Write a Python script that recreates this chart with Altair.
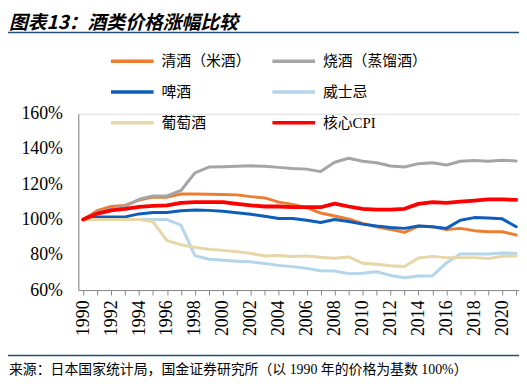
import altair as alt
import pandas as pd

years = list(range(1990, 2022))

series_names = ["清酒（米酒）", "烧酒（蒸馏酒）", "啤酒", "威士忌", "葡萄酒", "核心CPI"]
series_colors = ["#ED7D31", "#A5A5A5", "#0E5DBA", "#B4D5EA", "#E6D6A8", "#FF0000"]

sake = [100, 105, 107.4, 108, 111, 112.7, 112.7, 114.5, 114.5, 114.3, 114.2, 114, 113, 112.3,
        109.9, 108.6, 106.7, 103.7, 102, 100.3, 97.8, 95.9, 94.4, 92.7, 96.3, 95.9, 94.4, 95,
        93.7, 93.1, 93.1, 91.2]
shochu = [100, 104, 106, 107.5, 111.5, 113.4, 113.4, 116.5, 126.5, 129.8, 130, 130.2, 130.5, 130.2,
          129.6, 129, 128.6, 127.2, 132.5, 134.8, 133.1, 132.2, 130.4, 129.8, 131.7, 132.2, 130.9,
          133.1, 133.5, 133.1, 133.6, 133.2]
beer = [100, 101.5, 101.5, 101.5, 103.2, 104, 104, 105, 105.4, 105.2, 104.7, 103.9, 103, 101.9,
        100.6, 100.6, 99.6, 98.3, 100, 98.9, 97.4, 96.3, 95.5, 95, 96.3, 95.9, 95, 99.6, 101.1,
        100.9, 100.4, 95.9]
whisky = [100, 100, 100, 100, 100, 100, 100, 96.8, 79.5, 77.5, 76.9, 76.4, 76, 75.1, 74, 73.3,
          72.3, 71, 70.8, 69.3, 69.5, 70.4, 68.3, 67, 68, 68, 75.4, 80.4, 80.4, 80.4, 81, 80.8]
wine = [100, 100, 100, 100, 100, 98.7, 88, 85.7, 84.2, 83.2, 82.5, 81.7, 80.8, 79.3, 79.6, 79,
        79.3, 78.6, 78, 78.8, 75.2, 74.6, 73.8, 73.4, 78.2, 79.1, 78.4, 78.4, 78.4, 77.9, 79.1, 79.3]
core_cpi = [100, 103.4, 105.2, 106.1, 107.2, 107.8, 108, 109.5, 109.9, 109.9, 109.9, 108.9, 108,
            107.4, 107.4, 107, 107, 107, 109, 107.4, 106.1, 105.6, 105.6, 106.1, 108.9, 109.9,
            109.5, 110.2, 110.8, 111.4, 111.4, 111.2]

y_ticks = [60, 80, 100, 120, 140, 160]
title_text = "图表13：酒类价格涨幅比较"
source_text = "来源：日本国家统计局，国金证券研究所（以 1990 年的价格为基数 100%）"

all_series = [sake, shochu, beer, whisky, wine, core_cpi]
rows = []
for name, vals in zip(series_names, all_series):
    for yr, v in zip(years, vals):
        rows.append({"year": yr, "value": v, "series": name})
df = pd.DataFrame(rows)

latin_cjk = "Liberation Serif, Noto Sans CJK SC"
line_color = "#1F4E79"

lines = alt.Chart(df).mark_line(strokeCap="round", strokeJoin="round").encode(
    x=alt.X("year:Q",
            scale=alt.Scale(domain=[1989.65, 2021.2], nice=False, zero=False),
            axis=alt.Axis(values=years, labelExpr="datum.value % 2 == 0 ? datum.value : ''",
                          labelAngle=-90, labelFont="Liberation Serif", labelFontSize=18,
                          labelColor="#000000", labelPadding=5, labelAlign="right",
                          labelBaseline="middle", tickSize=5, tickColor="#888888",
                          domainColor="#888888", grid=False, title=None, labelOverlap=False,
                          labelFlush=False)),
    y=alt.Y("value:Q",
            scale=alt.Scale(domain=[60, 160], nice=False, zero=False),
            axis=alt.Axis(values=y_ticks, labelExpr="datum.value + '%'",
                          labelFont="Liberation Serif", labelFontSize=18, labelColor="#000000",
                          tickSize=0, labelPadding=16, domainColor="#888888", grid=False,
                          title=None)),
    color=alt.Color("series:N",
                    scale=alt.Scale(domain=series_names, range=series_colors),
                    sort=series_names,
                    legend=alt.Legend(orient="none", legendX=31, legendY=-61, columns=2,
                                      direction="horizontal",
                                      title=None, symbolType="stroke", symbolSize=1849,
                                      symbolStrokeWidth=3.5, clipHeight=16, rowPadding=15,
                                      columnPadding=19, labelOffset=6, padding=0,
                                      labelFont=latin_cjk, labelFontSize=15,
                                      labelColor="#000000", gridAlign="each")),
    strokeWidth=alt.condition(alt.datum.series == "核心CPI", alt.value(3.8), alt.value(3)),
    order=alt.Order("year:Q"),
)

one = pd.DataFrame({"t": [title_text]})
src = pd.DataFrame({"t": [source_text]})

title_mark = alt.Chart(one).mark_text(
    align="left", baseline="middle", font="Noto Sans CJK SC", fontSize=19,
    fontWeight="bold", fontStyle="italic", color="#000000"
).encode(text="t:N", x=alt.value(-70), y=alt.value(-92))

top_rule = alt.Chart(one).mark_rule(color=line_color, strokeWidth=1.5).encode(
    x=alt.value(-71), x2=alt.value(448), y=alt.value(-82))

bottom_rule = alt.Chart(one).mark_rule(color=line_color, strokeWidth=1.5).encode(
    x=alt.value(-71), x2=alt.value(448), y=alt.value(244))

source_mark = alt.Chart(src).mark_text(
    align="left", baseline="middle", font=latin_cjk, fontSize=14, color="#000000"
).encode(text="t:N", x=alt.value(-70), y=alt.value(259))

chart = alt.layer(lines, title_mark, top_rule, bottom_rule, source_mark).properties(
    width=445, height=178,
    padding={"left": 71, "top": 105, "right": 0, "bottom": 88},
    autosize=alt.AutoSizeParams(type="none"),
).configure_view(stroke=None).configure(background="#ffffff")

chart.save("out.html", embed_options={"renderer": "svg", "actions": False})
